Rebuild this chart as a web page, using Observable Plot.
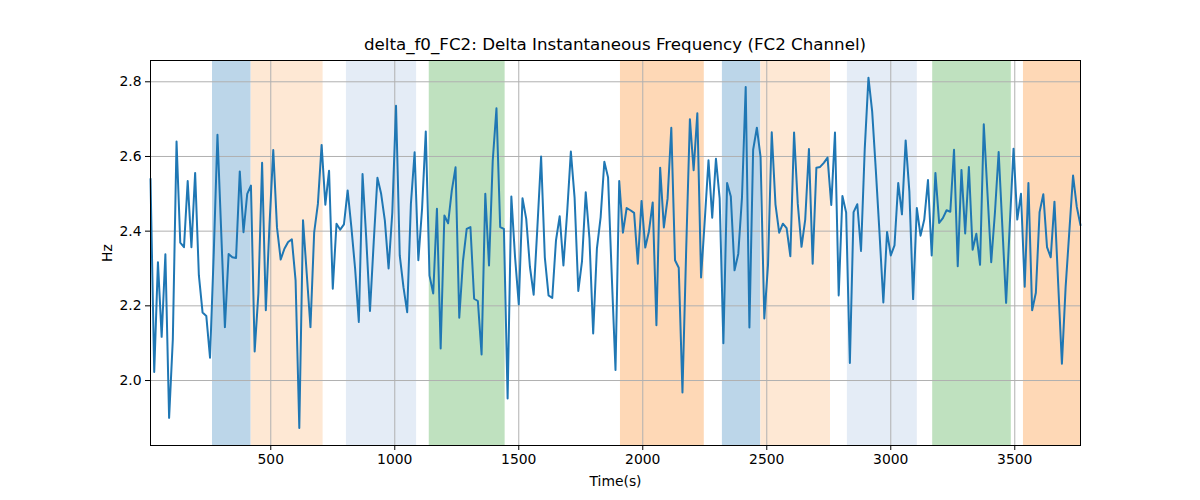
<!DOCTYPE html>
<html>
<head>
<meta charset="utf-8">
<script src="https://cdn.jsdelivr.net/npm/d3@7"></script>
<script src="https://cdn.jsdelivr.net/npm/@observablehq/plot@0.6"></script>
<style>
  html, body { margin: 0; padding: 0; background: white; }
  #wrap { width: 1200px; height: 500px; position: relative; font-family: "DejaVu Sans", sans-serif; }
  #title { height: 50px; box-sizing: border-box; padding-top: 36px; padding-left: 30px; width: 1200px; text-align: center; font-size: 16.7px; line-height: 16px; color: black; }
</style>
</head>
<body>
<div id="wrap">
  <div id="title">delta_f0_FC2: Delta Instantaneous Frequency (FC2 Channel)</div>
  <div id="chart"></div>
</div>
<script>
// Sampling of the series (seconds)
const T0 = 15;
const STEP = 15;

// Delta instantaneous frequency (Hz)
const values = [
  2.54, 2.023, 2.317, 2.117, 2.338, 1.90, 2.11, 2.64, 2.369, 2.357,
  2.534, 2.357, 2.556, 2.282, 2.182, 2.173, 2.061, 2.34, 2.658, 2.40,
  2.143, 2.339, 2.33, 2.328, 2.56, 2.397, 2.50, 2.522, 2.078, 2.233,
  2.583, 2.188, 2.42, 2.617, 2.41, 2.324, 2.353, 2.371, 2.378, 2.268,
  1.873, 2.429, 2.286, 2.143, 2.397, 2.473, 2.631, 2.471, 2.562, 2.246,
  2.42, 2.404, 2.418, 2.509, 2.41, 2.30, 2.157, 2.553, 2.38, 2.186,
  2.37, 2.543, 2.50, 2.428, 2.30, 2.45, 2.736, 2.335, 2.25, 2.183,
  2.473, 2.611, 2.322, 2.46, 2.667, 2.281, 2.233, 2.46, 2.086, 2.442,
  2.421, 2.509, 2.571, 2.168, 2.32, 2.406, 2.411, 2.219, 2.213, 2.07,
  2.50, 2.308, 2.589, 2.729, 2.411, 2.406, 1.952, 2.493, 2.33, 2.204,
  2.488, 2.433, 2.304, 2.23, 2.41, 2.60, 2.33, 2.228, 2.221, 2.375,
  2.44, 2.308, 2.45, 2.613, 2.49, 2.24, 2.32, 2.504, 2.38, 2.126,
  2.353, 2.437, 2.586, 2.544, 2.28, 2.028, 2.534, 2.396, 2.462, 2.456,
  2.449, 2.313, 2.481, 2.356, 2.40, 2.477, 2.148, 2.57, 2.41, 2.487,
  2.677, 2.322, 2.302, 1.968, 2.35, 2.70, 2.563, 2.716, 2.276, 2.43,
  2.59, 2.436, 2.594, 2.487, 2.10, 2.529, 2.493, 2.295, 2.339, 2.49,
  2.786, 2.142, 2.618, 2.677, 2.598, 2.166, 2.31, 2.665, 2.472, 2.396,
  2.42, 2.408, 2.333, 2.664, 2.473, 2.358, 2.431, 2.62, 2.313, 2.57,
  2.572, 2.583, 2.597, 2.47, 2.664, 2.228, 2.494, 2.45, 2.047, 2.451,
  2.472, 2.347, 2.62, 2.811, 2.72, 2.56, 2.39, 2.209, 2.398, 2.335,
  2.362, 2.529, 2.445, 2.643, 2.505, 2.218, 2.462, 2.388, 2.431, 2.537,
  2.335, 2.556, 2.422, 2.435, 2.456, 2.452, 2.618, 2.306, 2.564, 2.394,
  2.572, 2.35, 2.393, 2.31, 2.686, 2.50, 2.317, 2.45, 2.612, 2.41,
  2.208, 2.42, 2.621, 2.431, 2.50, 2.251, 2.529, 2.188, 2.235, 2.451,
  2.499, 2.357, 2.33, 2.479, 2.26, 2.045, 2.25, 2.40, 2.549, 2.465,
  2.416
];

// Shaded segments (seconds) and their colours
const bandStarts = [265, 421, 805, 1139, 1910, 2321, 2476, 2825, 3169, 3535];
const bandEnds   = [421, 711, 1088, 1445, 2248, 2476, 2757, 3107, 3486, 3765];
const bandColors = ["#bcd6e9", "#fee8d4", "#e4ecf6", "#bfe1bf", "#fed8b6",
                    "#bcd6e9", "#fee8d4", "#e4ecf6", "#bfe1bf", "#fed8b6"];

// Axis ticks
const xTicks = [500, 1000, 1500, 2000, 2500, 3000, 3500];
const yTicks = [2.0, 2.2, 2.4, 2.6, 2.8];
const xDomain = [15, 3765];
const yDomain = [1.826, 2.857];

const series = values.map((v, i) => ({t: T0 + STEP * i, v}));
const bands = bandStarts.map((s, i) => ({start: s, end: bandEnds[i], color: bandColors[i]}));

const chart = Plot.plot({
  width: 1200,
  height: 450,
  marginLeft: 150,
  marginRight: 120,
  marginTop: 10,
  marginBottom: 55,
  style: {fontFamily: "DejaVu Sans, sans-serif", fontSize: "13.9px", background: "white", color: "black"},
  x: {domain: xDomain},
  y: {domain: yDomain},
  color: {type: "identity"},
  marks: [
    Plot.rect(bands, {x1: "start", x2: "end", fill: "color"}),
    Plot.gridX(xTicks, {stroke: "#b0b0b0", strokeOpacity: 1, strokeWidth: 1}),
    Plot.gridY(yTicks, {stroke: "#b0b0b0", strokeOpacity: 1, strokeWidth: 1}),
    Plot.line(series, {x: "t", y: "v", stroke: "#1f77b4", strokeWidth: 2}),
    Plot.frame({stroke: "black", strokeWidth: 1}),
    Plot.axisX(xTicks, {tickSize: 5, tickPadding: 4, tickFormat: d3.format("d"), label: "Time(s)", labelAnchor: "center", labelArrow: "none", labelOffset: 40}),
    Plot.axisY(yTicks, {tickSize: 5, tickPadding: 4, tickFormat: d3.format(".1f"), label: "Hz", labelAnchor: "center", labelArrow: "none", labelOffset: 48})
  ]
});
document.getElementById("chart").appendChild(chart);
</script>
</body>
</html>
